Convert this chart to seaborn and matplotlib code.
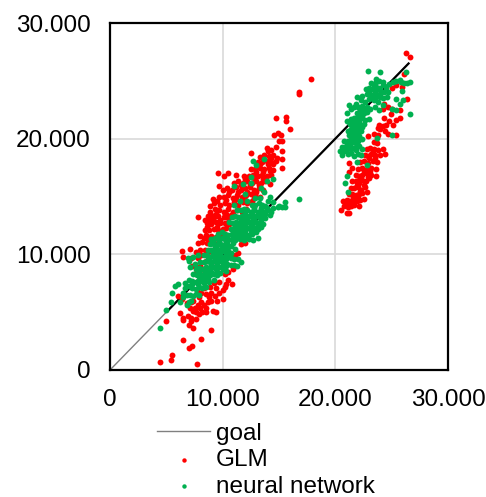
import pandas as pd
import matplotlib
matplotlib.use('Agg')
import matplotlib.pyplot as plt
import seaborn as sns

# values, in thousands
goal_x = [0, 26.5]
goal_y = [0, 26.5]
goal_dense_x = [5.2, 26.5]
goal_dense_y = [5.2, 26.5]

glm_low = [(4.4, .7), (5.4, .9), (5.5, 1.3), (7.7, .55), (7.0, 1.9), (7.3, 2.1), (6.5, 2.6), (8.1, 2.7), (9.0, 3.5), (7.4, 3.6), (5.0, 4.2),
           (6.2, 4.9), (6.5, 4.5), (6.9, 4.7), (7.2, 4.5), (7.2, 4.2), (7.0, 3.9), (6.5, 4.3), (7.6, 4.4), (7.9, 4.8), (8.2, 5.0), (8.5, 5.0), (9.1, 5.1), (9.4, 5.0),
           (6.0, 6.4), (6.4, 6.1), (6.8, 5.8), (7.1, 5.4), (7.4, 5.1), (7.8, 5.6), (8.3, 5.6), (8.7, 5.9), (9.0, 6.0), (9.5, 6.0), (7.4, 6.0), (7.9, 6.3),
           (8.5, 6.6), (9.0, 6.7), (9.4, 7.1), (10.0, 6.9), (10.0, 6.1), (10.3, 7.4), (10.8, 7.4), (10.5, 7.8), (9.7, 7.6), (8.9, 7.2), (8.3, 7.1), (7.7, 6.9),
           (7.6, 5.0), (8.0, 5.4), (8.1, 5.9), (8.5, 5.4), (8.8, 6.3), (9.3, 6.4), (9.7, 6.7), (10.2, 7.2), (9.2, 7.5), (8.1, 6.7), (7.2, 5.9), (7.5, 5.4)]
glm_mid = [(7.3, 9.0), (7.6, 8.4), (7.6, 8.9), (8.0, 9.0), (8.0, 8.3), (8.3, 8.7), (8.9, 8.5), (9.5, 8.5), (10.2, 8.3), (10.5, 8.5), (10.9, 8.7),
           (6.4, 10.3), (7.1, 10.5), (6.5, 9.8), (7.2, 9.7), (7.8, 9.7), (8.1, 9.9), (8.0, 10.4), (8.4, 10.4), (8.7, 10.2), (7.6, 10.2), (8.5, 9.4), (11.1, 9.9), (11.4, 10.1),
           (7.8, 11.0), (8.2, 11.1), (8.6, 11.0), (9.0, 11.0), (9.3, 10.9), (8.0, 11.6), (8.5, 11.7), (9.0, 11.6), (9.4, 11.5), (9.8, 11.6), (10.2, 11.7), (11.6, 10.9), (12.0, 11.0),
           (8.4, 12.1), (8.8, 12.1), (9.2, 12.2), (9.6, 12.1), (10.0, 12.2), (8.6, 12.7), (9.0, 12.6), (9.4, 12.8), (9.8, 12.7), (10.2, 12.7), (10.6, 12.6), (8.9, 13.0), (8.4, 13.0), (8.7, 13.3),
           (9.2, 13.2), (9.6, 13.3), (10.1, 13.2), (10.5, 13.1), (11.0, 13.3), (7.8, 13.2), (8.9, 13.7), (9.3, 13.9), (9.7, 13.8), (10.1, 13.7), (10.5, 13.9), (10.9, 13.7), (11.3, 13.8), (11.7, 13.7), (12.1, 13.9),
           (8.3, 11.4), (8.7, 11.3), (9.2, 11.3), (9.5, 12.4), (9.1, 12.9), (9.8, 13.0), (10.3, 13.5), (10.7, 13.4), (9.0, 13.4), (9.4, 13.5), (8.6, 12.4), (10.3, 12.3)]
glm_high = [(8.9, 14.2), (9.2, 14.4), (9.5, 14.6), (9.8, 14.3), (10.2, 14.4), (10.6, 14.3), (11.0, 14.5), (11.4, 14.3), (11.8, 14.5), (12.2, 14.4), (12.6, 14.6), (9.1, 14.8), (9.7, 15.0),
            (10.1, 15.0), (10.5, 15.1), (10.9, 14.9), (11.3, 15.1), (11.7, 15.0), (12.1, 15.1), (12.5, 15.2), (12.9, 15.1), (13.3, 15.0), (9.65, 15.9), (10.0, 15.6), (10.4, 15.7), (10.8, 15.6),
            (11.2, 15.8), (11.6, 15.6), (12.0, 15.7), (12.4, 15.8), (12.8, 15.6), (13.2, 15.7), (13.6, 15.6), (11.0, 16.2), (11.4, 16.3), (11.8, 16.2), (12.2, 16.3), (12.6, 16.2), (13.0, 16.3),
            (13.4, 16.2), (13.8, 16.3), (14.2, 16.1), (9.6, 17.0), (10.1, 16.8), (10.5, 17.0), (11.2, 16.9), (11.9, 16.8), (12.3, 16.8), (12.7, 16.9), (13.1, 16.8), (13.5, 16.9), (13.9, 16.8), (14.3, 16.9),
            (12.5, 17.4), (12.9, 17.4), (13.3, 17.5), (13.7, 17.4), (14.1, 17.5), (14.5, 17.3), (15.3, 17.5), (13.1, 18.0), (13.5, 18.0), (13.9, 18.1), (14.3, 18.0), (14.7, 18.1), (13.3, 18.4), (13.7, 18.6),
            (14.1, 18.5), (14.5, 18.6), (14.8, 18.3), (15.3, 18.2), (13.9, 19.2), (14.3, 19.0), (14.7, 19.3), (15.3, 18.9), (12.5, 18.8), (14.6, 20.3), (14.9, 20.5), (15.2, 20.3), (15.0, 19.8), (15.3, 19.8),
            (16.0, 20.8), (14.7, 21.8), (15.6, 21.9), (15.6, 21.5), (16.75, 24.05), (16.8, 23.9), (17.8, 25.15),
            (10.3, 14.7), (11.2, 14.8), (12.0, 14.7), (12.8, 14.9), (10.6, 15.4), (11.4, 15.4), (12.2, 15.4), (13.0, 15.4), (11.6, 16.0), (12.4, 16.0), (13.2, 16.0), (13.6, 16.5), (12.8, 16.6), (12.0, 16.5),
            (13.0, 17.1), (13.6, 17.1), (14.2, 17.2), (13.3, 17.8), (14.0, 17.8), (14.5, 17.8), (14.3, 18.3), (14.0, 18.9)]
glm_upper = [(20.5, 13.8), (21.0, 13.55), (21.2, 13.6), (20.8, 14.2), (21.1, 14.1), (21.4, 14.2), (21.7, 14.3), (22.1, 14.2), (20.7, 14.6), (21.0, 14.7), (21.3, 14.6), (21.6, 14.7), (21.9, 14.6), (22.2, 14.7),
             (22.5, 14.8), (21.2, 15.2), (21.5, 15.2), (21.8, 15.1), (22.1, 15.2), (22.4, 15.3), (22.8, 15.4), (21.4, 15.7), (21.7, 15.7), (22.0, 15.8), (22.3, 15.6), (22.6, 15.8), (21.5, 16.3), (21.8, 16.3),
             (22.1, 16.2), (22.4, 16.4), (22.7, 16.3), (23.0, 16.6), (21.8, 16.9), (22.1, 16.8), (22.4, 16.9), (22.7, 17.0), (23.2, 16.9), (23.6, 16.8), (21.2, 17.1), (21.5, 17.5), (22.0, 17.4), (22.4, 17.5), (22.8, 17.4),
             (23.2, 17.5), (23.6, 17.4), (21.2, 17.9), (22.2, 18.0), (22.5, 18.1), (22.9, 17.9), (23.3, 18.1), (23.7, 18.0), (22.6, 18.6), (22.9, 18.5), (23.2, 18.7), (23.5, 18.6), (24.0, 18.6), (24.4, 18.7),
             (22.8, 19.1), (23.1, 19.2), (23.4, 19.1), (23.8, 19.0), (24.2, 19.1), (23.4, 19.7), (23.7, 19.6), (22.9, 20.2), (23.4, 20.4), (23.8, 20.3), (24.0, 20.8), (24.4, 20.7), (24.7, 20.4), (25.4, 20.3),
             (23.9, 21.2), (24.2, 21.1), (24.5, 21.2), (24.8, 21.5), (25.1, 21.2), (25.4, 21.6), (25.7, 21.8), (24.3, 21.8), (24.9, 22.1), (25.0, 22.6), (24.2, 22.6), (24.7, 22.7), (25.7, 22.5), (24.3, 23.0),
             (26.4, 23.4), (25.4, 24.6), (25.0, 24.35), (25.9, 24.5), (26.1, 25.6), (26.3, 27.4), (26.65, 27.05),
             (21.0, 14.4), (21.5, 14.4), (22.0, 14.9), (21.6, 15.0), (22.2, 15.5), (21.9, 16.0), (22.5, 16.0), (22.2, 16.6), (22.9, 16.7), (22.5, 17.2), (23.1, 17.2), (23.0, 18.3), (23.5, 18.3), (23.3, 18.9), (23.8, 20.9)]

nn_low = [(4.4, 3.6), (5.0, 5.2), (5.4, 5.9), (5.5, 6.7), (5.8, 7.3), (6.0, 7.4), (6.2, 5.9), (6.8, 5.6), (7.0, 5.9), (7.2, 6.0), (6.5, 6.3), (6.5, 6.7), (6.7, 7.1), (6.8, 6.5), (7.1, 6.5), (7.4, 6.4),
          (7.6, 6.6), (7.9, 6.5), (6.7, 7.5), (7.0, 7.3), (7.3, 7.1), (7.6, 7.0), (7.9, 7.2), (8.2, 7.1), (8.5, 7.2), (7.0, 7.8), (7.3, 7.7), (7.6, 7.6), (7.9, 7.8), (8.2, 7.7), (8.5, 7.8), (8.8, 7.6), (9.2, 7.8),
          (7.7, 8.2), (8.0, 8.3), (8.3, 8.2), (8.6, 8.3), (8.9, 8.2), (9.2, 8.3), (9.5, 8.2), (9.8, 8.4), (7.6, 8.7), (7.9, 8.8), (8.2, 8.7), (8.5, 8.9), (8.8, 8.7), (9.1, 8.9), (9.4, 8.7), (9.7, 8.9), (10.0, 8.7), (10.3, 8.6),
          (7.1, 8.9), (7.5, 9.2), (7.0, 9.4), (8.0, 9.3), (8.3, 9.3), (8.6, 9.4), (8.9, 9.3), (9.2, 9.4), (9.5, 9.3), (9.8, 9.4), (10.1, 9.3), (10.4, 9.2), (10.7, 9.1), (11.0, 9.1), (11.3, 9.0), (11.6, 9.3),
          (6.9, 9.7), (7.4, 9.8), (7.8, 9.9), (8.3, 9.9), (8.6, 9.9), (8.9, 9.8), (9.2, 9.9), (9.5, 9.8), (9.8, 9.9), (10.1, 9.8), (10.4, 9.9), (10.7, 9.7), (11.0, 9.6), (11.4, 9.6),
          (8.7, 10.4), (9.0, 10.4), (9.3, 10.3), (9.6, 10.4), (9.9, 10.3), (10.2, 10.4), (10.5, 10.3), (8.9, 10.9), (9.2, 10.9), (9.5, 10.8), (9.8, 10.9), (10.1, 10.8), (10.4, 10.9), (10.7, 10.7), (11.1, 10.5),
          (7.3, 7.4), (7.8, 7.4), (8.3, 7.5), (8.7, 7.9), (8.2, 8.0), (7.8, 8.5), (8.4, 8.5), (9.0, 8.5), (9.5, 8.5), (9.0, 9.1), (9.5, 9.1), (10.0, 9.1), (10.3, 9.0), (8.7, 9.6), (9.3, 9.6), (9.9, 9.6), (10.3, 9.6),
          (9.1, 10.1), (9.7, 10.1), (10.3, 10.1), (10.7, 10.1), (9.3, 10.6), (9.9, 10.6), (10.5, 10.6), (9.1, 11.1), (9.7, 11.1), (10.3, 11.1), (10.9, 11.0), (8.0, 8.0), (8.5, 8.1), (7.4, 8.3)]
nn_mid = [(9.0, 11.3), (9.3, 11.4), (9.6, 11.3), (9.9, 11.4), (10.2, 11.3), (10.5, 11.2), (10.8, 11.3), (11.1, 11.2), (11.5, 11.3), (11.9, 11.2), (12.3, 11.3), (12.7, 11.2), (13.1, 11.4), (9.6, 11.8), (9.9, 11.9),
          (10.2, 11.8), (10.5, 11.7), (10.8, 11.8), (11.1, 11.7), (11.4, 11.8), (11.7, 11.7), (12.0, 11.8), (12.3, 11.7), (12.6, 11.8), (13.0, 11.9), (10.7, 12.2), (11.0, 12.3), (11.3, 12.2), (11.6, 12.3), (11.9, 12.2),
          (12.2, 12.3), (12.5, 12.2), (12.8, 12.3), (13.1, 12.2), (13.4, 12.4), (10.6, 12.8), (10.9, 12.7), (11.2, 12.8), (11.5, 12.7), (11.8, 12.8), (12.1, 12.7), (12.4, 12.8), (12.7, 12.7), (13.0, 12.8), (13.3, 12.7), (13.6, 12.6),
          (10.8, 13.2), (11.1, 13.3), (11.4, 13.2), (11.7, 13.3), (12.0, 13.2), (12.3, 13.3), (12.6, 13.2), (12.9, 13.3), (13.2, 13.2), (13.5, 13.3), (13.8, 13.1), (14.2, 13.4), (11.3, 13.8), (11.6, 13.8), (11.9, 13.9),
          (12.2, 13.8), (12.5, 13.7), (12.8, 13.8), (13.1, 13.7), (13.4, 13.8), (13.7, 13.7), (14.0, 13.8), (14.3, 13.7), (14.5, 14.0), (14.9, 14.1), (15.3, 14.1), (15.5, 14.5), (15.0, 14.2), (14.5, 14.5), (16.8, 14.8), (15.5, 14.1),
          (12.6, 14.3), (12.9, 14.3), (13.2, 14.4), (13.5, 14.3), (13.8, 14.2), (12.9, 14.9), (13.3, 14.9), (14.0, 14.6), (14.2, 15.0), (11.5, 14.6), (11.0, 14.3), (12.0, 15.2), (12.2, 14.6), (13.7, 15.4),
          (11.0, 15.9), (11.8, 16.1), (12.5, 16.7), (13.4, 15.7), (13.9, 16.3), (14.5, 16.5), (13.0, 17.7), (13.7, 18.2), (12.7, 18.1), (12.5, 16.2),
          (11.3, 11.5), (11.7, 11.5), (12.1, 11.5), (11.0, 12.0), (11.5, 12.0), (12.0, 12.0), (12.5, 12.0), (13.0, 12.1), (11.3, 12.5), (11.9, 12.5), (12.5, 12.5), (13.1, 12.5), (11.6, 13.0), (12.2, 13.0), (12.8, 13.0), (13.4, 13.0),
          (12.0, 13.5), (12.6, 13.5), (13.2, 13.5), (13.8, 13.5), (12.8, 14.0), (13.4, 14.0), (13.9, 14.0)]
nn_upper = [(21.1, 15.4), (20.9, 16.2), (21.0, 16.8), (22.8, 17.7), (21.9, 18.0), (20.4, 18.9), (20.6, 18.6), (20.8, 18.9), (21.1, 18.7), (21.4, 18.8), (21.7, 18.5), (22.0, 18.7), (22.3, 18.6), (20.6, 19.3),
            (20.9, 19.3), (21.2, 19.4), (21.5, 19.2), (21.8, 19.3), (22.1, 19.4), (22.4, 19.1), (20.8, 19.8), (21.1, 19.8), (21.4, 19.9), (21.7, 19.7), (22.0, 19.8), (21.2, 20.3), (21.5, 20.2), (21.8, 20.3), (22.1, 20.2),
            (22.4, 20.0), (23.7, 20.1), (25.0, 20.3), (21.1, 20.7), (21.4, 20.8), (21.7, 20.7), (22.0, 20.9), (22.3, 20.7), (21.3, 21.3), (21.6, 21.2), (21.9, 21.3), (22.2, 21.2), (22.5, 21.3), (21.0, 21.5), (21.4, 21.7), (21.7, 21.8),
            (22.0, 21.7), (22.3, 21.8), (22.6, 21.6), (23.0, 21.7), (21.9, 22.2), (22.2, 22.3), (22.5, 22.2), (22.8, 22.3), (21.0, 22.2), (21.4, 22.6), (21.7, 22.7), (22.0, 22.7), (21.8, 23.0), (21.2, 22.9),
            (22.4, 22.8), (22.8, 22.7), (23.1, 22.6), (23.5, 22.7), (23.9, 22.5), (24.2, 22.9), (25.0, 22.6), (25.4, 22.5), (25.7, 23.0), (26.0, 23.3), (25.4, 23.4), (26.6, 22.1), (22.3, 23.3), (22.6, 23.2), (23.0, 23.4),
            (23.4, 23.3), (23.8, 23.2), (24.2, 23.5), (24.6, 23.6), (21.9, 23.6), (22.4, 23.7), (22.8, 23.9), (23.1, 23.8), (23.4, 23.9), (23.7, 23.8), (24.0, 23.9), (24.3, 24.0), (24.7, 24.0), (25.9, 24.15), (22.7, 24.3), (23.0, 24.4),
            (23.3, 24.3), (23.6, 24.5), (23.9, 24.4), (24.2, 24.6), (24.5, 24.5), (24.8, 24.7), (25.1, 24.9), (25.4, 25.0), (23.2, 24.8), (23.6, 24.9), (23.9, 25.0), (24.2, 24.9), (23.6, 25.2), (25.8, 24.9), (26.1, 24.8),
            (26.4, 24.8), (26.6, 24.9), (26.3, 25.8), (22.86, 25.85), (24.0, 25.76), (25.7, 25.1),
            (20.7, 19.0), (21.0, 19.1), (21.4, 19.1), (21.8, 19.0), (21.0, 19.6), (21.4, 19.6), (21.8, 19.6), (21.4, 20.0), (21.8, 20.0), (21.6, 20.5), (22.0, 20.5), (21.6, 21.0), (22.0, 21.0), (22.4, 21.0), (21.7, 21.5), (22.1, 21.5),
            (22.0, 22.0), (22.4, 22.0), (22.2, 22.5), (22.6, 22.5), (23.2, 23.6), (23.6, 23.6), (24.0, 23.6), (23.0, 24.1), (23.5, 24.1), (24.0, 24.2), (24.5, 24.2), (23.4, 24.6)]

tick_values = [0, 10, 20, 30]
tick_labels = ['0', '10.000', '20.000', '30.000']

plt.rcParams['font.family'] = ['Liberation Sans', 'DejaVu Sans']

glm = pd.DataFrame(glm_low + glm_mid + glm_high + glm_upper, columns=['x', 'y'])
nn = pd.DataFrame(nn_low + nn_mid + nn_upper, columns=['x', 'y'])

fig = plt.figure(figsize=(4.86, 4.97), dpi=100)
ax = fig.add_axes([110 / 486, 127 / 497, 338 / 486, 347 / 497])

# goal looks like many stacked segments, thicker after about 5.000
sns.lineplot(x=goal_x, y=goal_y, ax=ax, color='#808080', linewidth=1.0, label='goal')
sns.lineplot(x=goal_dense_x, y=goal_dense_y, ax=ax, color='black', linewidth=1.6)
sns.scatterplot(data=glm, x='x', y='y', ax=ax, color='#FF0000', s=18, linewidth=0, label='GLM', zorder=3)
sns.scatterplot(data=nn, x='x', y='y', ax=ax, color='#00B050', s=18, linewidth=0, label='neural network', zorder=4)

ax.set_xlim(0, 30)
ax.set_ylim(0, 30)
ax.set_xticks(tick_values)
ax.set_xticklabels(tick_labels)
ax.set_yticks(tick_values)
ax.set_yticklabels(tick_labels)
ax.set_xlabel('')
ax.set_ylabel('')
ax.tick_params(length=0, labelsize=17.5, colors='black')
ax.tick_params(axis='x', pad=14)
ax.tick_params(axis='y', pad=14)
ax.grid(True, color='#D9D9D9', linewidth=1.2)
ax.set_axisbelow(True)
for s in ax.spines.values():
    s.set_color('black')
    s.set_linewidth(1.6)

handles, labels = ax.get_legend_handles_labels()
ax.legend_.remove()
fig.legend(handles, labels, loc='lower left', bbox_to_anchor=(155 / 486, -3 / 497), frameon=False, fontsize=17.5,
           handlelength=2.15, handletextpad=0.25, labelspacing=0.18, borderpad=0.1, borderaxespad=0, markerscale=0.75)

plt.savefig('out.png', dpi=100)
